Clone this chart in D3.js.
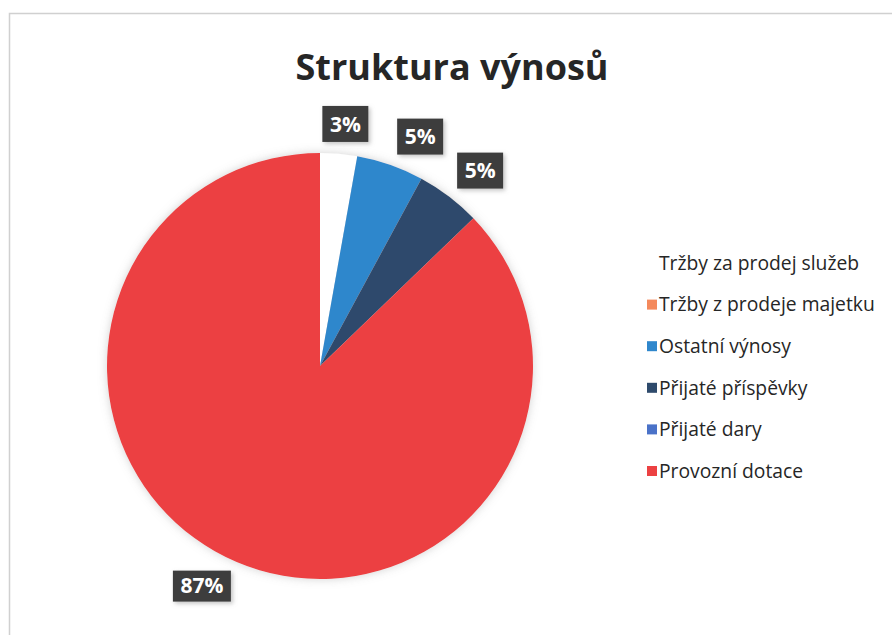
<!DOCTYPE html>
<html>
<head>
<meta charset="utf-8">
<script src="https://cdn.jsdelivr.net/npm/d3@7"></script>
<style>
  body { margin: 0; background: #fff; }
  svg { display: block; font-family: "Open Sans", sans-serif; }
</style>
</head>
<body>
<svg id="chart"></svg>
<script>
// data (percent of total)
const categories = [
  "Tržby za prodej služeb",
  "Tržby z prodeje majetku",
  "Ostatní výnosy",
  "Přijaté příspěvky",
  "Přijaté dary",
  "Provozní dotace"
];
const values = [2.8, 0, 5.1, 4.9, 0, 87.2];
const labels = ["3%", "", "5%", "5%", "", "87%"];
const colors = ["#ffffff", "#f4895c", "#2f87cc", "#2e4a6c", "#4a72c8", "#ec4142"];

const width = 892, height = 635;
const svg = d3.select("#chart").attr("width", width).attr("height", height);

// chart frame (runs off the right and bottom of the scan)
svg.append("rect")
  .attr("x", 9.5).attr("y", 13.5)
  .attr("width", width + 20).attr("height", height + 20)
  .attr("fill", "none").attr("stroke", "#d0d0d0").attr("stroke-width", 1.5);

// soft shadows
const defs = svg.append("defs");
defs.append("filter").attr("id", "pieShadow")
  .attr("x", "-20%").attr("y", "-20%").attr("width", "140%").attr("height", "140%")
  .append("feDropShadow")
  .attr("dx", 0).attr("dy", 0).attr("stdDeviation", 5)
  .attr("flood-color", "#999").attr("flood-opacity", 0.45);
defs.append("filter").attr("id", "boxShadow")
  .attr("x", "-30%").attr("y", "-30%").attr("width", "160%").attr("height", "160%")
  .append("feDropShadow")
  .attr("dx", 2).attr("dy", 2).attr("stdDeviation", 2)
  .attr("flood-color", "#888").attr("flood-opacity", 0.5);

// title
svg.append("text")
  .attr("x", 452).attr("y", 80)
  .attr("text-anchor", "middle")
  .attr("font-size", 36).attr("font-weight", 700)
  .attr("fill", "#262626")
  .text("Struktura výnosů");

// pie
const cx = 320, cy = 366, R = 213;
const data = categories.map((c, i) => ({ name: c, value: values[i], label: labels[i], color: colors[i] }));

const pie = d3.pie().value(d => d.value).sort(null);
const arc = d3.arc().innerRadius(0).outerRadius(R);
const arcs = pie(data);

const g = svg.append("g").attr("transform", `translate(${cx},${cy})`);

g.append("g").attr("filter", "url(#pieShadow)")
  .selectAll("path")
  .data(arcs.filter(d => d.data.value > 0))
  .join("path")
  .attr("d", arc)
  .attr("fill", d => d.data.color);

// data labels outside the slices
const labelOffset = {
  "Tržby za prodej služeb": [4, 0],
  "Ostatní výnosy": [20, 0],
  "Přijaté příspěvky": [13, -2],
  "Provozní dotace": [-23, -4]
};
const lab = g.selectAll("g.lab")
  .data(arcs.filter(d => d.data.label))
  .join("g")
  .attr("class", "lab")
  .attr("transform", d => {
    const a = (d.startAngle + d.endAngle) / 2;
    const r = R + 30;
    const off = labelOffset[d.data.name] || [0, 0];
    return `translate(${Math.sin(a) * r + off[0]},${-Math.cos(a) * r + off[1]})`;
  });

lab.append("rect")
  .attr("x", d => d.data.label.length > 2 ? -29 : -23)
  .attr("y", d => d.data.label.length > 2 ? -15 : -18)
  .attr("width", d => d.data.label.length > 2 ? 58 : 46)
  .attr("height", d => d.data.label.length > 2 ? 31 : 36)
  .attr("fill", "#3d3d3d")
  .attr("filter", "url(#boxShadow)");

lab.append("text")
  .attr("text-anchor", "middle")
  .attr("dy", "0.36em")
  .attr("font-size", 21).attr("font-weight", 700)
  .attr("fill", "#fff")
  .text(d => d.data.label);

// legend
const legend = svg.append("g").attr("transform", "translate(647,263)");
const item = legend.selectAll("g")
  .data(data)
  .join("g")
  .attr("transform", (d, i) => `translate(0,${i * 41.6})`);

item.append("rect")
  .attr("x", 0).attr("y", -5)
  .attr("width", 10).attr("height", 10)
  .attr("fill", d => d.color);

item.append("text")
  .attr("x", 12).attr("dy", "0.35em")
  .attr("font-size", 19.3)
  .attr("fill", "#262626")
  .text(d => d.name);
</script>
</body>
</html>
